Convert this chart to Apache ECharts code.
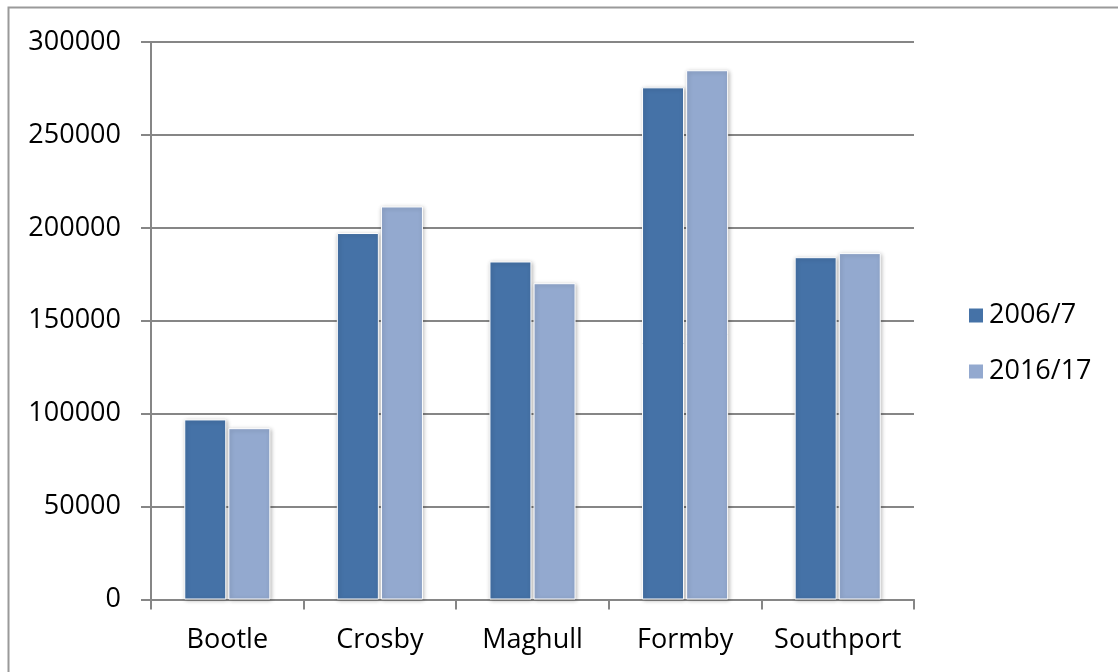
<!DOCTYPE html>
<html>
<head>
<meta charset="utf-8">
<script src="https://cdn.jsdelivr.net/npm/echarts@6/dist/echarts.min.js"></script>
<style>
html,body{margin:0;padding:0;background:#fff;}
#c{width:1118px;height:672px;}
</style>
</head>
<body>
<div id="c"></div>
<script>
const categories = ['Bootle', 'Crosby', 'Maghull', 'Formby', 'Southport'];
const seriesNames = ['2006/7', '2016/17'];
const values2006 = [96900, 197200, 181900, 275600, 184200];
const values2016 = [92200, 211500, 170200, 284800, 186400];
const colors = ['#4572A7', '#93A9CF'];

const chart = echarts.init(document.getElementById('c'), null, {renderer: 'canvas'});
const font = '"Open Sans", "Liberation Sans", sans-serif';
function barSeries(name, data, color) {
  return {
    name: name,
    type: 'bar',
    data: data,
    barWidth: 42,
    barGap: '5%',
    itemStyle: {
      color: color,
      borderColor: '#ffffff',
      borderWidth: 1,
      shadowColor: 'rgba(0,0,0,0.28)',
      shadowBlur: 4,
      shadowOffsetX: 1,
      shadowOffsetY: 1
    }
  };
}
chart.setOption({
  animation: false,
  backgroundColor: '#ffffff',
  textStyle: {fontFamily: font},
  graphic: [{
    type: 'rect',
    shape: {x: 8.5, y: 7.5, width: 1200, height: 800},
    style: {fill: 'none', stroke: '#9a9a9a', lineWidth: 2},
    silent: true,
    z: -1
  }],
  grid: {left: 151, right: 204, top: 42, bottom: 72.5, containLabel: false},
  legend: {
    orient: 'vertical',
    left: 962,
    top: 297,
    itemWidth: 16,
    itemHeight: 16,
    itemGap: 29,
    icon: 'rect',
    textStyle: {fontSize: 27, color: '#000', fontFamily: font, padding: [0, 0, 0, 0]},
    data: seriesNames
  },
  xAxis: {
    type: 'category',
    data: categories,
    axisLine: {lineStyle: {color: '#868686', width: 2}},
    axisTick: {show: true, length: 10, interval: 0, alignWithLabel: false, lineStyle: {color: '#868686', width: 2}},
    axisLabel: {fontSize: 27, color: '#000', margin: 27, interval: 0, fontFamily: font},
    splitLine: {show: false}
  },
  yAxis: {
    type: 'value',
    min: 0,
    max: 300000,
    interval: 50000,
    axisLine: {show: true, lineStyle: {color: '#868686', width: 2}},
    axisTick: {show: true, length: 10, lineStyle: {color: '#868686', width: 2}},
    axisLabel: {fontSize: 27, color: '#000', margin: 30, fontFamily: font, formatter: function (v) { return String(v); }},
    splitLine: {show: true, lineStyle: {color: '#868686', width: 2}}
  },
  series: [
    barSeries(seriesNames[0], values2006, colors[0]),
    barSeries(seriesNames[1], values2016, colors[1])
  ]
});
</script>
</body>
</html>
